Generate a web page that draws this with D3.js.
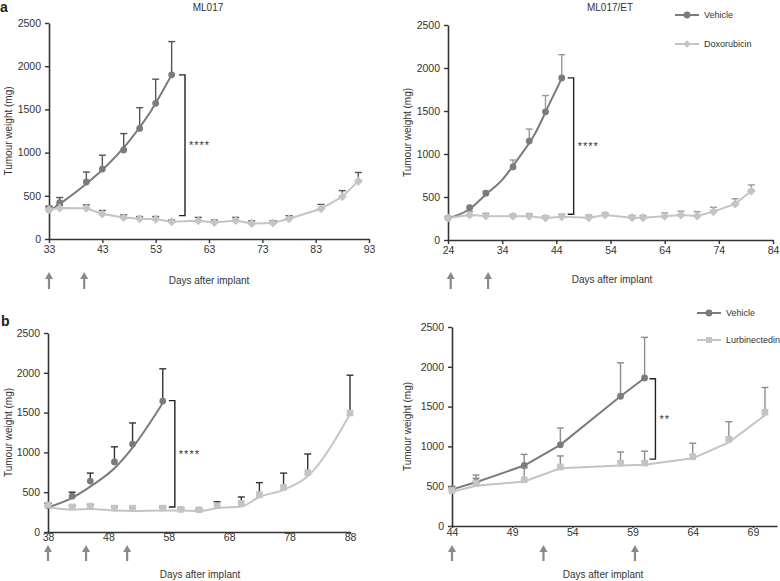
<!DOCTYPE html>
<html>
<head>
<meta charset="utf-8">
<script src="https://cdn.jsdelivr.net/npm/d3@7"></script>
<style>
  body { margin: 0; background: #fff; }
  svg { display: block; font-family: "Liberation Sans", Arial, sans-serif; }
</style>
</head>
<body>
<svg id="chart" width="780" height="581"></svg>
<script>
// ---- data ----
const yTicks = [0, 500, 1000, 1500, 2000, 2500];

// a / ML017
const mlTicks = [33, 43, 53, 63, 73, 83, 93];
const mlVehDays = [33, 35, 40, 43, 47, 50, 53, 56];
const mlVehMean = [340, 420, 660, 810, 1030, 1280, 1570, 1900];
const mlVehErr = [40, 60, 115, 160, 190, 240, 280, 385];
const mlVehFitDays = [33, 36, 40, 44, 48, 52, 56];
const mlVehFit = [320, 450, 640, 860, 1130, 1470, 1900];
const mlDoxDays = [33, 35, 40, 43, 47, 50, 53, 56, 61, 64, 68, 71, 75, 78, 84, 88, 91];
const mlDoxMean = [340, 360, 355, 290, 250, 235, 230, 200, 210, 190, 215, 180, 185, 235, 350, 490, 670];
const mlDoxErr = [30, 30, 40, 40, 30, 25, 30, 20, 40, 30, 35, 30, 25, 35, 50, 70, 100];
const mlArrows = [33, 39.6];

// a / ML017/ET
const etTicks = [24, 34, 44, 54, 64, 74, 84];
const etVehDays = [24, 28, 31, 36, 39, 42, 45];
const etVehMean = [255, 375, 545, 850, 1150, 1490, 1885];
const etVehErr = [10, 15, 20, 80, 140, 190, 270];
const etVehFitDays = [24, 28, 31, 34, 37, 40, 43, 45];
const etVehFit = [250, 360, 530, 700, 950, 1230, 1620, 1880];
const etDoxDays = [24, 28, 31, 36, 39, 42, 45, 50, 53, 58, 60, 64, 67, 70, 73, 77, 80];
const etDoxMean = [255, 290, 280, 275, 275, 255, 270, 260, 290, 260, 260, 275, 290, 280, 330, 420, 570];
const etDoxErr = [20, 40, 30, 25, 30, 25, 30, 30, 25, 25, 25, 40, 45, 50, 50, 60, 70];
const etArrows = [24.5, 31.4];

// b / left
const blTicks = [38, 48, 58, 68, 78, 88];
const blVehDays = [38, 42, 45, 49, 52, 57];
const blVehMean = [330, 450, 640, 880, 1105, 1645];
const blVehErr = [30, 50, 100, 190, 265, 405];
const blVehFitDays = [38, 42, 45, 49, 52, 57];
const blVehFit = [310, 430, 570, 800, 1060, 1620];
const blLurDays = [38, 42, 45, 49, 52, 57, 60, 63, 66, 70, 73, 77, 81, 88];
const blLurMean = [340, 315, 325, 300, 300, 300, 285, 280, 330, 360, 470, 560, 745, 1495];
const blLurErr = [20, 15, 20, 20, 10, 15, 15, 10, 50, 80, 150, 180, 235, 475];
const blLurFit = [310, 280, 290, 270, 265, 270, 270, 262, 300, 320, 440, 530, 700, 1480];
const blArrows = [38, 44.3, 51.1];

// b / right
const brTicks = [44, 49, 54, 59, 64, 69];
const brVehDays = [44, 46, 50, 53, 58, 60];
const brVehMean = [460, 550, 760, 1020, 1630, 1860];
const brVehErr = [40, 90, 140, 210, 420, 510];
const brLurDays = [44, 46, 50, 53, 58, 60, 64, 67, 70];
const brLurMean = [445, 540, 580, 740, 790, 790, 870, 1090, 1430];
const brLurErr = [30, 60, 150, 140, 140, 150, 170, 220, 310];
const brLurLine = [430, 505, 560, 725, 760, 770, 850, 1050, 1390];
const brArrows = [44, 51.6, 59.2];

const vehColor = '#7b7b7b';
const trtColor = '#c4c4c4';
const axisColor = '#333';

const svg = d3.select('#chart');

const zip = (xs, ys) => xs.map((d, i) => [d, ys[i]]);

function drawPanel (opt) {
    const x = d3.scaleLinear().domain(opt.xDomain).range(opt.xRange);
    const y = d3.scaleLinear().domain([0, 2500]).range(opt.yRange);
    const g = svg.append('g');

    // axes
    const ax = g.append('g')
        .attr('transform', `translate(0,${opt.yRange[0]})`)
        .call(d3.axisBottom(x).tickValues(opt.xTicks).tickFormat(d3.format('d'))
            .tickSize(opt.xTickSize).tickSizeOuter(0).tickPadding(opt.xTickPad));
    const ay = g.append('g')
        .attr('transform', `translate(${opt.xRange[0]},0)`)
        .call(d3.axisLeft(y).tickValues(yTicks).tickFormat(d3.format('d'))
            .tickSize(4).tickSizeOuter(0).tickPadding(4));
    [ax, ay].forEach(a => {
        a.select('.domain').attr('stroke', axisColor).attr('stroke-width', 1.6);
        a.selectAll('.tick line').attr('stroke', axisColor).attr('stroke-width', 1.4);
        a.selectAll('.tick text').attr('fill', '#333').style('font-size', '10.5px')
            .style('font-family', '"Liberation Sans", Arial, sans-serif');
    });

    // axis labels
    g.append('text')
        .attr('transform', `translate(${opt.yLabelX},${(opt.yRange[0] + opt.yRange[1]) / 2}) rotate(-90)`)
        .attr('text-anchor', 'middle').attr('dy', '0.35em')
        .attr('fill', '#333').style('font-size', '10px')
        .text('Tumour weight (mg)');
    g.append('text')
        .attr('x', opt.xLabel[0]).attr('y', opt.xLabel[1])
        .attr('text-anchor', 'middle').attr('dy', '0.35em')
        .attr('fill', '#333').style('font-size', '10px')
        .text('Days after implant');

    if (opt.title) {
        g.append('text')
            .attr('x', opt.title[0]).attr('y', opt.title[1])
            .attr('text-anchor', 'middle').attr('dy', '0.35em')
            .attr('fill', '#333').style('font-size', '10px')
            .text(opt.title[2]);
    }

    // arrows (dosing days)
    opt.arrows.forEach(d => {
        const ax0 = x(d);
        g.append('line')
            .attr('x1', ax0).attr('x2', ax0)
            .attr('y1', opt.arrowY[0] + 6).attr('y2', opt.arrowY[1])
            .attr('stroke', '#8a8a8a').attr('stroke-width', 2.2);
        g.append('path')
            .attr('d', `M${ax0 - 4},${opt.arrowY[0] + 7} L${ax0},${opt.arrowY[0]} L${ax0 + 4},${opt.arrowY[0] + 7} Z`)
            .attr('fill', '#8a8a8a');
    });

    const line = d3.line().x(d => x(d[0])).y(d => y(d[1]));

    // series: lines first, then error bars & markers
    opt.series.forEach(s => {
        g.append('path')
            .datum(s.line)
            .attr('d', line.curve(s.curve || d3.curveLinear))
            .attr('fill', 'none')
            .attr('stroke', s.color)
            .attr('stroke-width', 2);
    });

    opt.series.forEach(s => {
        const pts = s.days.map((d, i) => ({day: d, mean: s.mean[i], err: s.err[i]}));
        const eb = g.append('g');
        pts.forEach(p => {
            const px = x(p.day), top = y(p.mean + p.err);
            eb.append('line').attr('x1', px).attr('x2', px)
                .attr('y1', y(p.mean)).attr('y2', top)
                .attr('stroke', s.errColor).attr('stroke-width', 1.4);
            eb.append('line').attr('x1', px - 3.5).attr('x2', px + 3.5)
                .attr('y1', top).attr('y2', top)
                .attr('stroke', s.errColor).attr('stroke-width', 1.4);
        });
        g.append('g').selectAll('path')
            .data(pts)
            .join('path')
            .attr('transform', p => `translate(${x(p.day)},${y(p.mean)})`)
            .attr('d', d3.symbol().type(s.symbol).size(s.size))
            .attr('fill', s.color);
    });

    // significance bracket
    const b = opt.bracket;
    const bx = x(b.day);
    g.append('path')
        .attr('d', `M${bx - 6},${y(b.top)} H${bx} V${y(b.bottom)} H${bx - 6}`)
        .attr('fill', 'none').attr('stroke', '#222').attr('stroke-width', 1.4);
    g.append('text')
        .attr('x', bx + 4).attr('y', y((b.top + b.bottom) / 2) + 4)
        .attr('fill', '#333').style('font-size', '11px').style('letter-spacing', '1px')
        .text(b.label);

    // legend
    if (opt.legend) {
        opt.legend.items.forEach((it, i) => {
            const ly = opt.legend.y + i * opt.legend.gap;
            const lx = opt.legend.x;
            g.append('line').attr('x1', lx).attr('x2', lx + 24)
                .attr('y1', ly).attr('y2', ly)
                .attr('stroke', it.color).attr('stroke-width', 2);
            g.append('path')
                .attr('transform', `translate(${lx + 12},${ly})`)
                .attr('d', d3.symbol().type(it.symbol).size(it.size))
                .attr('fill', it.color);
            g.append('text')
                .attr('x', lx + 29).attr('y', ly).attr('dy', '0.35em')
                .attr('fill', '#333').style('font-size', '9px')
                .text(it.name);
        });
    }
}

// panel letters
svg.append('text').attr('x', 0).attr('y', 12).style('font-size', '14px').style('font-weight', 'bold').attr('fill', '#222').text('a');
svg.append('text').attr('x', 1).attr('y', 326).style('font-size', '14px').style('font-weight', 'bold').attr('fill', '#222').text('b');

const diamond = d3.symbolDiamond2 || d3.symbolDiamond;

drawPanel({
    xDomain: [33, 93], xRange: [49, 369], yRange: [239, 23], xTicks: mlTicks, xTickSize: 4, xTickPad: 3,
    yLabelX: 8, xLabel: [209, 280], title: [208, 7, 'ML017'],
    arrows: mlArrows, arrowY: [272, 289],
    series: [
        {line: zip(mlVehFitDays, mlVehFit), curve: d3.curveMonotoneX, days: mlVehDays, mean: mlVehMean, err: mlVehErr,
         color: vehColor, errColor: '#555', symbol: d3.symbolCircle, size: 36},
        {line: zip(mlDoxDays, mlDoxMean), days: mlDoxDays, mean: mlDoxMean, err: mlDoxErr,
         color: trtColor, errColor: '#555', symbol: diamond, size: 52}
    ],
    bracket: {day: 58.5, top: 1900, bottom: 270, label: '****'}
});

drawPanel({
    xDomain: [24, 84], xRange: [448, 773], yRange: [240, 25], xTicks: etTicks, xTickSize: 4, xTickPad: 3,
    yLabelX: 407, xLabel: [612, 279], title: [610, 7, 'ML017/ET'],
    arrows: etArrows, arrowY: [272, 289],
    series: [
        {line: zip(etVehFitDays, etVehFit), curve: d3.curveMonotoneX, days: etVehDays, mean: etVehMean, err: etVehErr,
         color: vehColor, errColor: '#999', symbol: d3.symbolCircle, size: 36},
        {line: zip(etDoxDays, etDoxMean), days: etDoxDays, mean: etDoxMean, err: etDoxErr,
         color: trtColor, errColor: '#999', symbol: diamond, size: 52}
    ],
    bracket: {day: 47.2, top: 1885, bottom: 300, label: '****'},
    legend: {x: 675, y: 15, gap: 29, items: [
        {name: 'Vehicle', color: vehColor, symbol: d3.symbolCircle, size: 36},
        {name: 'Doxorubicin', color: trtColor, symbol: diamond, size: 36}
    ]}
});

drawPanel({
    xDomain: [38, 88], xRange: [48, 350], yRange: [532, 333], xTicks: blTicks, xTickSize: 2, xTickPad: 0,
    yLabelX: 8, xLabel: [200, 574],
    arrows: blArrows, arrowY: [545, 561],
    series: [
        {line: zip(blVehFitDays, blVehFit), curve: d3.curveMonotoneX, days: blVehDays, mean: blVehMean, err: blVehErr,
         color: vehColor, errColor: '#333', symbol: d3.symbolCircle, size: 36},
        {line: zip(blLurDays, blLurFit), curve: d3.curveMonotoneX, days: blLurDays, mean: blLurMean, err: blLurErr,
         color: trtColor, errColor: '#333', symbol: d3.symbolSquare, size: 45}
    ],
    bracket: {day: 59, top: 1650, bottom: 315, label: '****'}
});

drawPanel({
    xDomain: [44, 71], xRange: [452, 777], yRange: [526, 327], xTicks: brTicks, xTickSize: 2, xTickPad: 1,
    yLabelX: 407, xLabel: [603, 574],
    arrows: brArrows, arrowY: [545, 561],
    series: [
        {line: zip(brVehDays, brVehMean), days: brVehDays, mean: brVehMean, err: brVehErr,
         color: vehColor, errColor: '#8c8c8c', symbol: d3.symbolCircle, size: 36},
        {line: zip(brLurDays, brLurLine), days: brLurDays, mean: brLurMean, err: brLurErr,
         color: trtColor, errColor: '#8c8c8c', symbol: d3.symbolSquare, size: 45}
    ],
    bracket: {day: 60.9, top: 1850, bottom: 840, label: '**'},
    legend: {x: 697, y: 313, gap: 27, items: [
        {name: 'Vehicle', color: vehColor, symbol: d3.symbolCircle, size: 36},
        {name: 'Lurbinectedin', color: trtColor, symbol: d3.symbolSquare, size: 36}
    ]}
});
</script>
</body>
</html>
